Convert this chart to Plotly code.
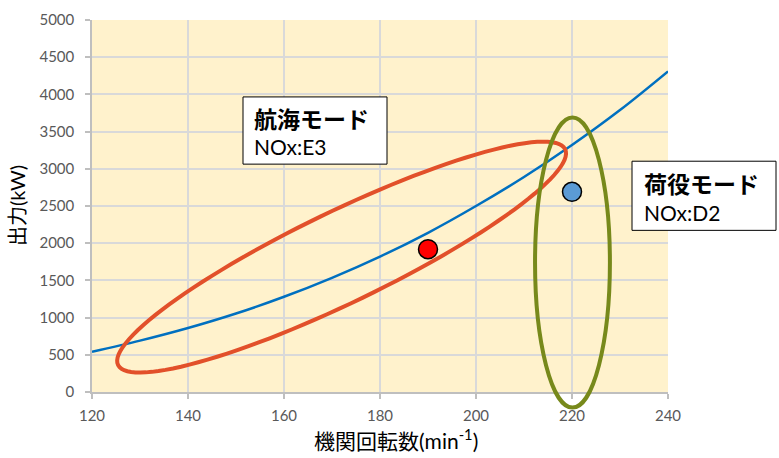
import math
import plotly.graph_objects as go

# ---- data ----
rpm_curve = [120, 130, 140, 150, 160, 170, 180, 190, 200, 210, 220, 230, 240]
kw_curve = [540, 690, 860, 1055, 1280, 1535, 1820, 2140, 2500, 2890, 3320, 3790, 4310]

cruise_point_rpm = [190]
cruise_point_kw = [1920]
cargo_point_rpm = [220]
cargo_point_kw = [2690]

x_ticks = [120, 140, 160, 180, 200, 220, 240]
y_ticks = [0, 500, 1000, 1500, 2000, 2500, 3000, 3500, 4000, 4500, 5000]

box_titles = ["航海モード", "荷役モード"]
box_subtitles = ["NOx:E3", "NOx:D2"]

# ellipse (cruise mode): centre in data units, semi-axes in px, tilt in degrees
cruise_ell_center = (172, 1813)
cruise_ell_axes_px = (249.5, 46.7)
cruise_ell_angle = 26.4
# ellipse (cargo mode): bounding box in data units
cargo_ell_x = (212.3, 227.9)
cargo_ell_y = (-210, 3690)

X_RANGE = [120, 240]
Y_RANGE = [0, 5000]

W, H = 779, 458
ML, MR, MT, MB = 92, 111, 10, 66
PW, PH = W - ML - MR, H - MT - MB

FONT = "Lato, 'Noto Sans CJK JP', sans-serif"


def px_x(v):
    return (v - X_RANGE[0]) / (X_RANGE[1] - X_RANGE[0]) * PW


def px_y(v):
    return (v - Y_RANGE[0]) / (Y_RANGE[1] - Y_RANGE[0]) * PH


def pxs(xpix):  # absolute page x pixel -> paper
    return (xpix - ML) / PW


def pys(ypix):  # absolute page y pixel -> paper
    return (H - MB - ypix) / PH


# build red ellipse path in paper coords
cx, cy = px_x(cruise_ell_center[0]), px_y(cruise_ell_center[1])
a, b = cruise_ell_axes_px
th = math.radians(cruise_ell_angle)
pts = []
N = 120
for i in range(N):
    t = 2 * math.pi * i / N
    x = cx + a * math.cos(t) * math.cos(th) - b * math.sin(t) * math.sin(th)
    y = cy + a * math.cos(t) * math.sin(th) + b * math.sin(t) * math.cos(th)
    pts.append((x / PW, y / PH))
path = "M " + " L ".join(f"{x:.5f},{y:.5f}" for x, y in pts) + " Z"

fig = go.Figure()
fig.add_trace(go.Scatter(x=rpm_curve, y=kw_curve, mode="lines",
                         line=dict(color="#0070C0", width=2.5, shape="spline"),
                         hoverinfo="skip", showlegend=False))
fig.add_trace(go.Scatter(x=cruise_point_rpm, y=cruise_point_kw, mode="markers",
                         marker=dict(size=19, color="#FF0000", line=dict(color="black", width=1.5)),
                         showlegend=False))
fig.add_trace(go.Scatter(x=cargo_point_rpm, y=cargo_point_kw, mode="markers",
                         marker=dict(size=19, color="#5B9BD5", line=dict(color="black", width=1.5)),
                         showlegend=False))

# label boxes: (left, top, right, bottom) in page px
boxes = [(243, 89, 387, 158), (632, 155, 776, 226)]
text_left = [252, 642]
line1_y = [112, 178]
line2_y = [140, 208]

shapes = [
    dict(type="path", xref="paper", yref="paper", path=path,
         line=dict(color="#E2502A", width=4), layer="above"),
    dict(type="circle", xref="paper", yref="paper",
         x0=px_x(cargo_ell_x[0]) / PW, x1=px_x(cargo_ell_x[1]) / PW,
         y0=px_y(cargo_ell_y[0]) / PH, y1=px_y(cargo_ell_y[1]) / PH,
         line=dict(color="#77891B", width=4), layer="above"),
]
annotations = []
for i, (l, t, r, bt) in enumerate(boxes):
    shapes.append(dict(type="rect", xref="paper", yref="paper",
                       x0=pxs(l), x1=pxs(r), y0=pys(bt), y1=pys(t),
                       fillcolor="white", line=dict(color="black", width=1), layer="above"))
    annotations.append(dict(xref="paper", yref="paper", x=pxs(text_left[i]), y=pys(line1_y[i]),
                            xanchor="left", yanchor="middle", showarrow=False,
                            text=f"<b>{box_titles[i]}</b>",
                            font=dict(family=FONT, size=23, color="black")))
    annotations.append(dict(xref="paper", yref="paper", x=pxs(text_left[i]), y=pys(line2_y[i]),
                            xanchor="left", yanchor="middle", showarrow=False,
                            text=box_subtitles[i],
                            font=dict(family=FONT, size=21, color="black")))

annotations += [
    dict(xref="paper", yref="paper", x=pxs(396), y=pys(440),
         xanchor="center", yanchor="middle", showarrow=False,
         text="機関回転数(min<sup>-1</sup>)", font=dict(family=FONT, size=21, color="black")),
    dict(xref="paper", yref="paper", x=pxs(17), y=0.5,
         xanchor="center", yanchor="middle", showarrow=False, textangle=-90,
         text="出力(kW)", font=dict(family=FONT, size=20, color="black")),
]

axis_common = dict(showgrid=True, gridcolor="#D9D9D9", gridwidth=1.5,
                   showline=True, linecolor="#BFBFBF", linewidth=1.5,
                   ticks="outside", ticklen=5, tickcolor="#BFBFBF", tickwidth=1.5,
                   tickfont=dict(family=FONT, size=15, color="#595959"),
                   zeroline=False, fixedrange=True)

fig.update_layout(
    width=W, height=H, margin=dict(l=ML, r=MR, t=MT, b=MB),
    paper_bgcolor="white", plot_bgcolor="#FFF2CC",
    xaxis=dict(range=X_RANGE, tickvals=x_ticks, ticklabelstandoff=4, **axis_common),
    yaxis=dict(range=Y_RANGE, tickvals=y_ticks, ticklabelstandoff=8, **axis_common),
    shapes=shapes, annotations=annotations, showlegend=False,
)

fig.write_html("out.html")
